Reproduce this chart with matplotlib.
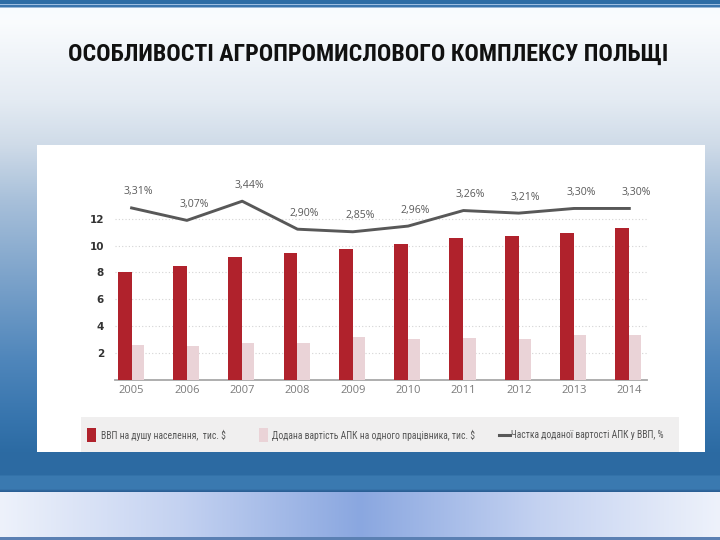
import numpy as np
import matplotlib
matplotlib.use("Agg")
import matplotlib.pyplot as plt
from matplotlib import font_manager as fm
from matplotlib.patches import Rectangle
from matplotlib.lines import Line2D
from matplotlib.colors import to_rgb

# --- data ---
years = ["2005", "2006", "2007", "2008", "2009", "2010", "2011", "2012", "2013", "2014"]
gdp_per_capita = [8.05, 8.48, 9.13, 9.48, 9.73, 10.1, 10.6, 10.75, 10.95, 11.32]
agro_value_per_worker = [2.6, 2.5, 2.75, 2.75, 3.18, 3.03, 3.1, 3.03, 3.33, 3.33]
agro_share_pct = [3.31, 3.07, 3.44, 2.90, 2.85, 2.96, 3.26, 3.21, 3.30, 3.30]
share_labels = ["3,31%", "3,07%", "3,44%", "2,90%", "2,85%", "2,96%", "3,26%", "3,21%", "3,30%", "3,30%"]
y_ticks = [2, 4, 6, 8, 10, 12]

title = "ОСОБЛИВОСТІ АГРОПРОМИСЛОВОГО КОМПЛЕКСУ ПОЛЬЩІ"
legend_labels = ["ВВП на душу населення,  тис. $",
                 "Додана вартість АПК на одного працівника, тис. $",
                 "Частка доданої вартості АПК у ВВП, %"]

RED = "#b0222c"
PINK = "#ead3d7"
LINE = "#585858"
W, H = 720, 540

# pick a narrow face if one is installed
narrow = None
for f in fm.fontManager.ttflist:
    if f.name in ("Liberation Sans Narrow", "Arial Narrow", "Roboto Condensed",
                  "Open Sans Condensed"):
        narrow = f.name
        break
condensed_dejavu = any(f.name == "DejaVu Sans" and f.stretch in ("condensed", 300, "semi-condensed")
                       for f in fm.fontManager.ttflist)
if narrow:
    narrow_kw = dict(family=[narrow, "DejaVu Sans"])
    narrow_scale = 1.0
elif condensed_dejavu:
    narrow_kw = dict(family="DejaVu Sans", fontstretch="condensed")
    narrow_scale = 0.85
else:
    narrow_kw = dict(family="DejaVu Sans")
    narrow_scale = 0.75


def fx(x):
    return x / W


def fy(y):
    return 1 - y / H


def blend(stops, n):
    # stops: list of (position_px, color)
    pos = np.array([s[0] for s in stops], dtype=float)
    cols = np.array([to_rgb(s[1]) for s in stops])
    t = np.arange(n) + 0.5
    return np.stack([np.interp(t, pos, cols[:, k]) for k in range(3)], axis=-1)


fig = plt.figure(figsize=(7.2, 5.4), dpi=100)

# slide background
bg = fig.add_axes([0, 0, 1, 1])
bg.set_axis_off()
vert = blend([(0, "#2d6ca5"), (3.5, "#2d6ca5"), (4.5, "#9dbde0"), (5.5, "#3a74ad"),
              (7, "#3a74ad"), (8, "#f8fbff"), (20, "#fafcfe"), (100, "#e4ebf3"),
              (145, "#cfdbe8"), (200, "#a8c0da"), (280, "#7ba2ca"), (360, "#4f86bb"),
              (420, "#3674ad"), (452, "#2c6ba3"), (475, "#2c6aa2"), (476, "#3b7ab1"),
              (489, "#3a79b0"), (491, "#2a5f95"), (492, "#2a5f95")], H)
img = np.repeat(vert[:, None, :], W, axis=1)
band = blend([(0, "#eef2fb"), (180, "#c4d2f1"), (360, "#8aa7e0"), (540, "#c4d2f1"),
              (720, "#eef2fb")], W)
img[492:537] = band[None, :, :]
img[537:] = to_rgb("#5b80b3")
bg.imshow(img, extent=[0, 1, 0, 1], aspect="auto", interpolation="bilinear")
bg.set_xlim(0, 1)
bg.set_ylim(0, 1)

fig.text(fx(368), fy(54), title, ha="center", va="center", fontsize=17.2 * narrow_scale,
         fontweight="bold", color="#111111", **narrow_kw)

# chart card
fig.patches.append(Rectangle((fx(37), fy(452)), fx(705) - fx(37), fy(145) - fy(452),
                             transform=fig.transFigure, facecolor="white", edgecolor="none",
                             zorder=1))
fig.patches.append(Rectangle((fx(81), fy(452)), fx(679) - fx(81), fy(417) - fy(452),
                             transform=fig.transFigure, facecolor="#f0efef", edgecolor="none",
                             zorder=1))

ax = fig.add_axes([fx(115), fy(379.5), fx(647) - fx(115), fy(192) - fy(379.5)])
ax.set_zorder(3)
ax.patch.set_alpha(0)
x = np.arange(len(years))
ax.bar(x - 0.253, gdp_per_capita, width=0.253, align="edge", color=RED, zorder=3)
ax.bar(x, agro_value_per_worker, width=0.22, align="edge", color=PINK, zorder=3)
ax.set_xlim(-0.30, 9.32)
ax.set_ylim(0, 14)
ax.set_yticks(y_ticks)
ax.set_yticklabels([str(v) for v in y_ticks], fontsize=7.5, fontweight="bold", color="#333333")
ax.set_xticks(x)
ax.set_xticklabels(years, fontsize=8, color="#7a7a7a", family="Open Sans")
ax.tick_params(axis="both", length=0)
ax.tick_params(axis="y", pad=8)
ax.tick_params(axis="x", pad=4)
for v in y_ticks:
    ax.axhline(v, color="#d4d4d4", lw=0.8, ls=(0, (1, 2)), zorder=1)
for s in ["top", "right", "left"]:
    ax.spines[s].set_visible(False)
ax.spines["bottom"].set_color("#a8a8a8")
ax.spines["bottom"].set_linewidth(1.3)

ax2 = ax.twinx()
ax2.set_ylim(0, 14 / 3.87)
ax2.plot(x, agro_share_pct, color=LINE, lw=2.1, zorder=4)
for xi, v, lab in zip(x, agro_share_pct, share_labels):
    ax2.annotate(lab, (xi, v), xytext=(5, 11.5), textcoords="offset points",
                 ha="center", va="center", fontsize=7.6, color="#5a5a5a",
                 family="Open Sans", annotation_clip=False)
ax2.set_axis_off()

# legend
leg_size = 6.9 * narrow_scale
fig.patches.append(Rectangle((fx(87), fy(442)), fx(96) - fx(87), fy(428) - fy(442),
                             transform=fig.transFigure, facecolor=RED, zorder=2))
fig.text(fx(101), fy(435), legend_labels[0], ha="left", va="center", fontsize=leg_size,
         color="#555555", zorder=3, **narrow_kw)
fig.patches.append(Rectangle((fx(259), fy(442)), fx(268) - fx(259), fy(428) - fy(442),
                             transform=fig.transFigure, facecolor=PINK, zorder=2))
fig.text(fx(272), fy(435), legend_labels[1], ha="left", va="center", fontsize=leg_size,
         color="#555555", zorder=3, **narrow_kw)
fig.lines.append(Line2D([fx(499), fx(510)], [fy(435), fy(435)], transform=fig.transFigure,
                        color=LINE, lw=2.2, zorder=3))
fig.text(fx(511), fy(435), legend_labels[2], ha="left", va="center", fontsize=leg_size,
         color="#555555", zorder=3, **narrow_kw)

fig.savefig("out.png", dpi=100)
